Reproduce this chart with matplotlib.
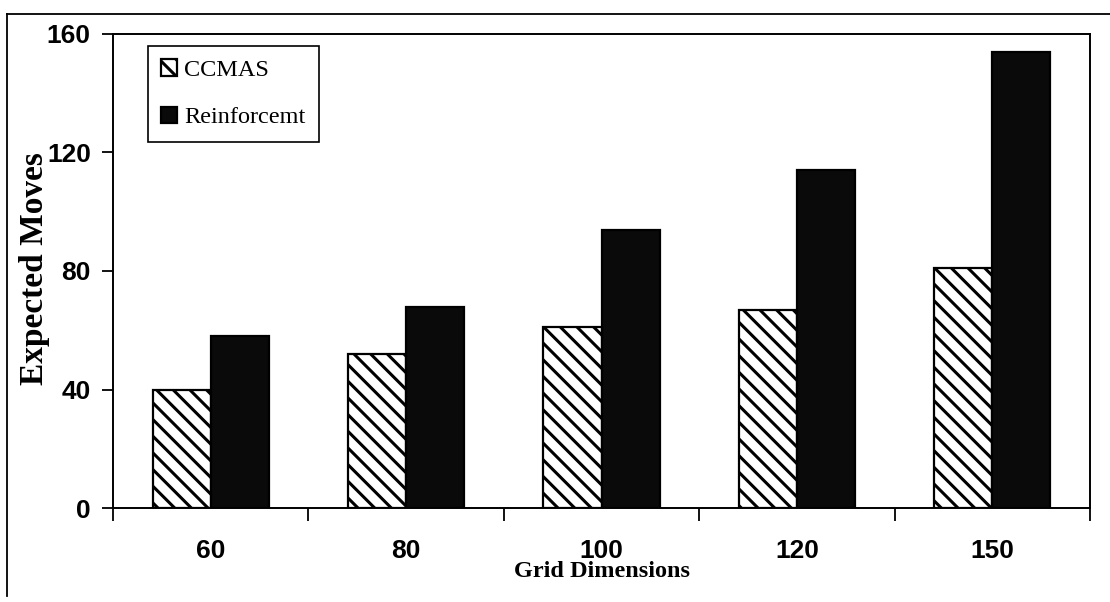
import numpy as np
import matplotlib
matplotlib.use("Agg")
import matplotlib.pyplot as plt
from matplotlib.lines import Line2D

# values
grid_sizes = ["60", "80", "100", "120", "150"]
ccmas = [40, 52, 61, 67, 81]
reinforcement = [58, 68, 94, 114, 154]
y_ticks = [0, 40, 80, 120, 160]

plt.rcParams['hatch.linewidth'] = 2.2

fig = plt.figure(figsize=(11.10, 6.02), dpi=100)
ax = fig.add_axes([113 / 1110, 1 - 508 / 602, (1090 - 113) / 1110, (508 - 34) / 602])

x = np.arange(len(grid_sizes))
w = 0.297
ax.bar(x - w / 2, ccmas, w, color="white", edgecolor="black", hatch="\\\\",
       linewidth=1.6, label="CCMAS")
ax.bar(x + w / 2, reinforcement, w, color="#0a0a0a", edgecolor="black",
       linewidth=1.6, label="Reinforcemt")

ax.set_xlim(-0.5, len(grid_sizes) - 0.5)
ax.set_ylim(0, 160)
ax.set_yticks(y_ticks)
ax.set_yticklabels([str(v) for v in y_ticks], fontfamily="Liberation Sans",
                   fontweight="bold", fontsize=19)

# category labels centred, ticks on the group boundaries
ax.set_xticks(np.arange(len(grid_sizes) + 1) - 0.5)
ax.set_xticklabels([])
ax.set_xticks(x, minor=True)
ax.set_xticklabels(grid_sizes, minor=True, fontfamily="Liberation Sans",
                   fontweight="bold", fontsize=19)
ax.tick_params(axis="x", which="minor", length=0, pad=22)
ax.tick_params(axis="x", which="major", direction="out", length=9, width=1.3)
ax.tick_params(axis="y", direction="out", length=8, width=1.3, pad=8)

for s in ax.spines.values():
    s.set_linewidth(1.4)

ax.set_xlabel("Grid Dimensions", fontfamily="Liberation Serif",
              fontweight="bold", fontsize=17.5, labelpad=-1)
ax.set_ylabel("Expected Moves", fontfamily="Liberation Serif",
              fontweight="bold", fontsize=24)
ax.yaxis.set_label_coords(-0.064, 0.505)

leg = ax.legend(loc="upper left", bbox_to_anchor=(148 / 1110, 1 - 46 / 602),
                bbox_transform=fig.transFigure, fancybox=False, shadow=False,
                framealpha=1, edgecolor="black",
                prop={"family": "Liberation Serif", "size": 17.5},
                handlelength=0.65, handleheight=0.65, handletextpad=0.3,
                borderpad=0.55, labelspacing=1.05, borderaxespad=0)
leg.get_frame().set_linewidth(1.2)

# outer chart border (left and top visible)
fig.add_artist(Line2D([7 / 1110, 7 / 1110], [1 - 596 / 602, 1 - 14 / 602],
                      transform=fig.transFigure, color="black", lw=1.3))
fig.add_artist(Line2D([7 / 1110, 1.0], [1 - 14 / 602, 1 - 14 / 602],
                      transform=fig.transFigure, color="black", lw=1.3))

fig.savefig("out.png", dpi=100)
